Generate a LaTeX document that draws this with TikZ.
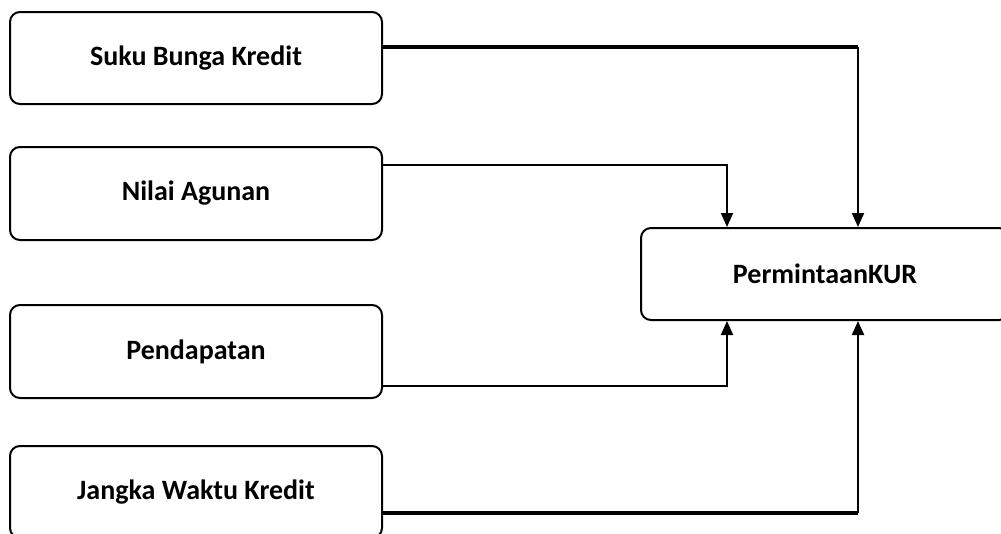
\documentclass[tikz,border=0pt]{standalone}
\usepackage{fontspec}
\setmainfont{Carlito}
\usetikzlibrary{arrows.meta}
\tikzset{
  box/.style={draw, line width=2pt, rounded corners=10pt, minimum width=372pt, minimum height=92pt, inner sep=0pt, font=\fontsize{28}{31}\selectfont\bfseries},
  link/.style={line width=2pt, -{Triangle[length=14pt,width=12pt]}},
  heavy/.style={line width=3.2pt},
}
\begin{document}
\begin{tikzpicture}[x=1pt,y=-1pt]
\useasboundingbox (0,0) rectangle (1001,533);
\node[box] (b1) at (196,58) {Suku Bunga Kredit};
\node[box, minimum height=93pt] (b2) at (196,193.5) {Nilai Agunan};
\node[box, minimum height=93pt] (b3) at (196,351.5) {Pendapatan};
\node[box] (b4) at (196,492) {Jangka Waktu Kredit};
\node[box, minimum width=368pt] (kur) at (825,274) {PermintaanKUR};
\coordinate (s1) at ([yshift=11pt]b1.east);
\coordinate (t1) at ([xshift=33pt]kur.north);
\coordinate (s2) at ([yshift=28.5pt]b2.east);
\coordinate (t2) at ([xshift=-98pt]kur.north);
\coordinate (s3) at ([yshift=-34.5pt]b3.east);
\coordinate (t3) at ([xshift=-98pt]kur.south);
\coordinate (s4) at ([yshift=-21pt]b4.east);
\coordinate (t4) at ([xshift=33pt]kur.south);
\draw[heavy] (s1) -- (s1 -| t1);
\draw[link] (s1 -| t1) -- (t1);
\draw[link] (s2) -| (t2);
\draw[link] (s3) -| (t3);
\draw[heavy] (s4) -- (s4 -| t4);
\draw[link] (s4 -| t4) -- (t4);
\end{tikzpicture}
\end{document}
